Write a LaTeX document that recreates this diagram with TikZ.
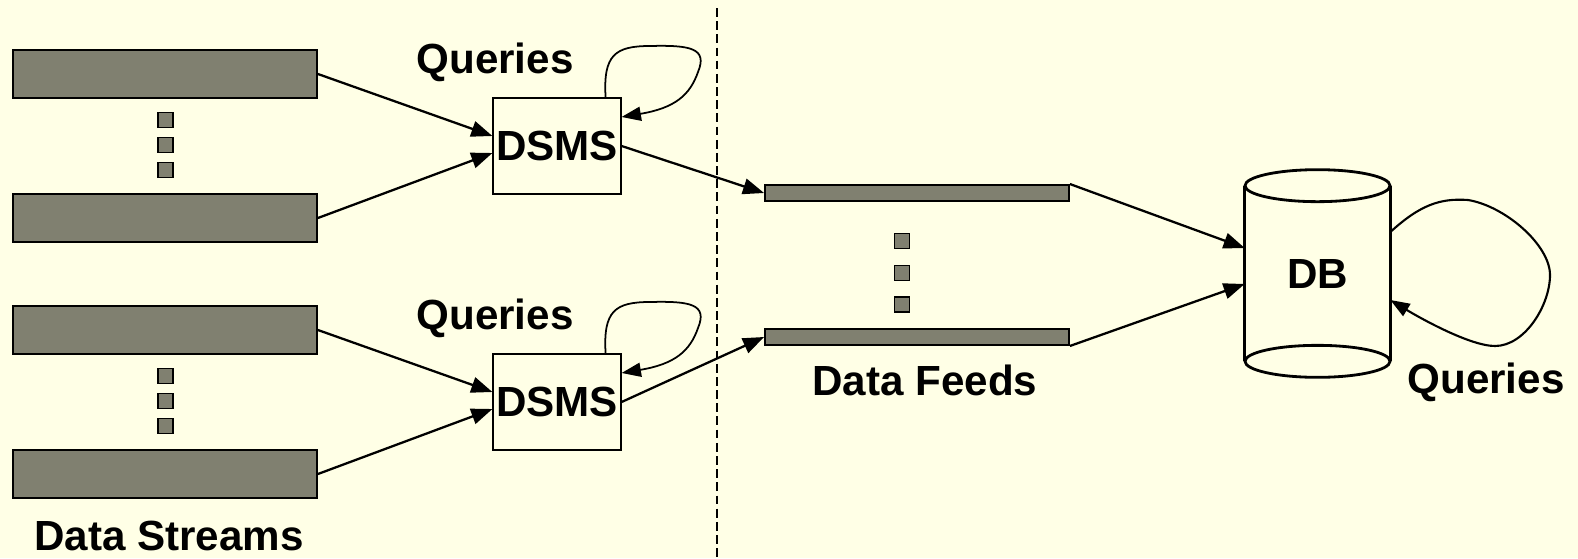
\documentclass[tikz,border=0pt]{standalone}
\usepackage{fontspec}
\setmainfont{Liberation Sans}
\usetikzlibrary{positioning, arrows.meta, calc}
\usepackage{xcolor}
\definecolor{slidebg}{HTML}{FFFFE6}
\definecolor{streamgray}{HTML}{808070}

\tikzset{
  streambar/.style={draw, line width=1.1pt, fill=streamgray, minimum width=6.08cm,
                    minimum height=0.96cm, inner sep=0pt},
  feedbar/.style={streambar, minimum height=0.32cm},
  dotbox/.style={draw, line width=0.9pt, fill=streamgray, minimum size=0.3cm, inner sep=0pt},
  bigbold/.style={font=\fontsize{24}{28}\selectfont\bfseries},
  dsmsbox/.style={draw, line width=0.7pt, minimum width=2.56cm, minimum height=1.92cm,
                  inner sep=0pt, bigbold},
  lbl/.style={bigbold, inner sep=0pt},
  flow/.style={-{Triangle[length=12pt,width=9pt]}, line width=1.3pt},
  selfloop/.style={-{Triangle[length=11pt,width=8pt]}, line width=1pt},
  dbline/.style={line width=1.6pt},
}

\begin{document}
\begin{tikzpicture}[x=0.02cm, y=-0.02cm]
  \fill[slidebg] (0,0) rectangle (1578,558);
  \useasboundingbox (0,0) rectangle (1578,558);

  % stream groups, each one into its own DSMS
  \foreach \g/\dy in {1/0, 2/256}{
    \node[streambar] (s\g a) at (165,{74+\dy}) {};
    \node[streambar] (s\g b) at (165,{218+\dy}) {};
    \foreach \k/\y in {1/120, 2/145, 3/170}
      \node[dotbox] (d\g\k) at (165.5,{\y+\dy}) {};
    \node[dsmsbox] (dsms\g) at (557,{146+\dy}) {DSMS};
    \node[lbl] (q\g) at (495,{62+\dy}) {Queries};
    \draw[flow] (s\g a.east) -- ($(dsms\g.west)+(0,-10)$);
    \draw[flow] (s\g b.east) -- ($(dsms\g.west)+(0,7)$);
    \draw[selfloop] ($(dsms\g.north east)+(-16,0)$)
      .. controls (603,{55+\dy}) and (615,{46+\dy}) .. (650,{46+\dy})
      .. controls (690,{45+\dy}) and (708,{48+\dy}) .. (698,{72+\dy})
      .. controls (690,{95+\dy}) and (675,{108+\dy}) .. ($(dsms\g.east)+(0,-29)$);
  }
  \node[lbl] (streamlbl) at (169,536) {Data Streams};

  \draw[line width=0.6pt, dash pattern=on 5pt off 2.5pt] (717,8) -- (717,558);

  % data feeds
  \node[feedbar] (f1) at (917,193) {};
  \node[feedbar] (f2) at (917,337) {};
  \foreach \k/\y in {1/241, 2/273, 3/304.5}
    \node[dotbox] (fd\k) at (902,\y) {};
  \node[lbl] (feedlbl) at (925,380) {Data Feeds};
  \draw[flow] (dsms1.east) -- (f1.west);
  \draw[flow] (dsms2.east) -- (f2.west);

  % database
  \node[lbl, minimum width=2.9cm, minimum height=3.5cm] (db) at (1317.5,273.5) {DB};
  \draw[dbline] (db.north west) -- (db.south west) (db.north east) -- (db.south east);
  \draw[dbline] (db.north) ellipse [x radius=1.45cm, y radius=0.32cm];
  \draw[dbline] (db.south) ellipse [x radius=1.45cm, y radius=0.32cm];
  \draw[flow] (f1.north east) -- ($(db.west)+(0,-25.5)$);
  \draw[flow] (f2.south east) -- ($(db.west)+(0,10.5)$);
  \draw[selfloop, line width=1.2pt] ($(db.east)+(0,-41.5)$)
    .. controls (1420,205) and (1440,198) .. (1468,200)
    .. controls (1505,206) and (1550,245) .. (1550,275)
    .. controls (1550,305) and (1525,346) .. (1495,346)
    .. controls (1470,346) and (1420,318) .. ($(db.east)+(0,26.5)$);
  \node[lbl] (q3) at (1486,382) {Queries};
\end{tikzpicture}
\end{document}
